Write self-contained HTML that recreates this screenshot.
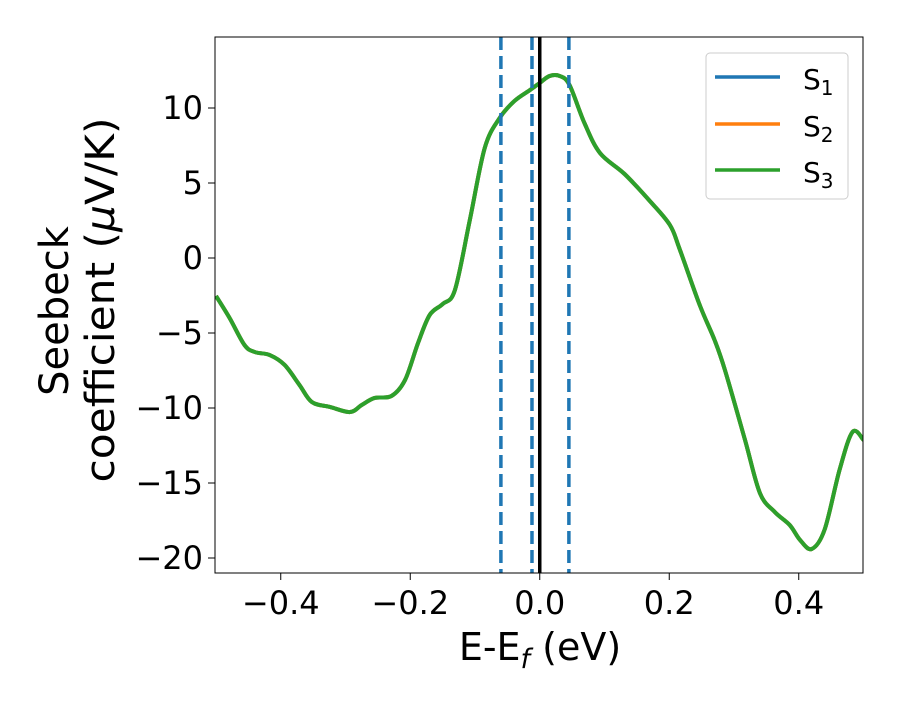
<!DOCTYPE html>
<html><head><meta charset="utf-8"><style>
body{margin:0;background:#fff;}
svg text{font-family:"DejaVu Sans","Liberation Sans",sans-serif;fill:#000;}
</style></head><body>
<svg id="chart" width="900" height="700" xmlns="http://www.w3.org/2000/svg">
<rect x="0" y="0" width="900" height="700" fill="#fff"/>
<g id="marks"></g>
<rect x="215" y="37" width="648" height="536" fill="none" stroke="#000" stroke-width="1"/>
<g id="ticks"></g>
<text x="540" y="660" font-size="38" text-anchor="middle">E-E<tspan font-style="italic" font-size="27" dy="8">f</tspan><tspan dy="-8"> (eV)</tspan></text>
<text transform="translate(68,311) rotate(-90)" font-size="40" text-anchor="middle">Seebeck</text>
<text transform="translate(114,300) rotate(-90)" font-size="40" text-anchor="middle" textLength="365" lengthAdjust="spacingAndGlyphs">coefficient  (<tspan font-style="italic">μ</tspan>V/K)</text>
<g>
<rect x="706" y="53" width="142" height="146" rx="4" fill="#fff" fill-opacity="0.8" stroke="#ccc"/>
<line x1="715" y1="77" x2="780" y2="77" stroke="#1f77b4" stroke-width="3.5"/>
<text x="803" y="89" font-size="28">S<tspan font-size="20" dy="6">1</tspan></text>
<line x1="715" y1="124" x2="780" y2="124" stroke="#ff7f0e" stroke-width="3.5"/>
<text x="803" y="136" font-size="28">S<tspan font-size="20" dy="6">2</tspan></text>
<line x1="715" y1="170" x2="780" y2="170" stroke="#2ca02c" stroke-width="3.5"/>
<text x="803" y="182" font-size="28">S<tspan font-size="20" dy="6">3</tspan></text>
</g>
</svg>
<script>
const energies=[-0.5,-0.479,-0.456,-0.44,-0.417,-0.394,-0.371,-0.352,-0.324,-0.293,-0.275,-0.255,-0.229,-0.208,-0.188,-0.17,-0.15,-0.131,-0.108,-0.085,-0.062,-0.039,-0.015,0,0.015,0.031,0.046,0.069,0.093,0.131,0.17,0.201,0.216,0.247,0.27,0.286,0.317,0.34,0.363,0.386,0.402,0.42,0.44,0.463,0.483,0.5];
const seebeck=[-2.53,-4.0,-5.8,-6.27,-6.47,-7.13,-8.47,-9.6,-9.93,-10.27,-9.8,-9.33,-9.2,-8.13,-5.67,-3.8,-3.07,-2.13,2.53,7.33,9.33,10.47,11.2,11.67,12.13,12.13,11.53,9.0,7.0,5.6,3.8,2.2,0.6,-3.13,-5.47,-7.47,-12.13,-15.67,-16.93,-17.8,-18.8,-19.4,-18.1,-14.13,-11.6,-12.13];
const dashedX=[-0.06,-0.012,0.045];
const fermiX=[0.0];
const xTicks=[-0.4,-0.2,0.0,0.2,0.4];
const xTickLabels=["−0.4","−0.2","0.0","0.2","0.4"];
const yTicks=[10,5,0,-5,-10,-15,-20];
const yTickLabels=["10","5","0","−5","−10","−15","−20"];

const NS="http://www.w3.org/2000/svg";
function sx(v){return 216+(v+0.5)*647.5;}
function sy(v){return 258-v*15;}
function mk(tag,attrs,parent){const e=document.createElementNS(NS,tag);for(const k in attrs)e.setAttribute(k,attrs[k]);parent.appendChild(e);return e;}
const marks=document.getElementById('marks');
const ticks=document.getElementById('ticks');
const clip=mk('clipPath',{id:'clp'},marks);mk('rect',{x:215,y:37,width:648,height:536},clip);
const g=mk('g',{'clip-path':'url(#clp)'},marks);
const P=energies.map((e,i)=>[sx(e),sy(seebeck[i])]);
let d="M"+P[0][0]+","+P[0][1];
for(let i=0;i<P.length-1;i++){
 const p0=P[Math.max(0,i-1)],p1=P[i],p2=P[i+1],p3=P[Math.min(P.length-1,i+2)];
 const c1=[p1[0]+(p2[0]-p0[0])/6,p1[1]+(p2[1]-p0[1])/6];
 const c2=[p2[0]-(p3[0]-p1[0])/6,p2[1]-(p3[1]-p1[1])/6];
 d+=" C"+c1[0]+","+c1[1]+" "+c2[0]+","+c2[1]+" "+p2[0]+","+p2[1];
}
const s1=mk('path',{d:d,fill:'none',stroke:'#1f77b4','stroke-width':4},g);


const s2=mk('path',{d:d,fill:'none',stroke:'#ff7f0e','stroke-width':4},g);


const s3=mk('path',{d:d,fill:'none',stroke:'#2ca02c','stroke-width':4},g);


dashedX.forEach((v,i)=>{
 const l=mk('line',{x1:sx(v),x2:sx(v),y1:37,y2:573,stroke:'#1f77b4','stroke-width':3.5,'stroke-dasharray':'13,6'},g);
 
 
});
fermiX.forEach(v=>{
 const l=mk('line',{x1:sx(v),x2:sx(v),y1:37,y2:573,stroke:'#000','stroke-width':3.5},g);
 
 
});
xTicks.forEach((v,i)=>{
 const x=sx(v);
 const t=mk('line',{x1:x,x2:x,y1:573,y2:580,stroke:'#000'},ticks);
 
 
 const tx=mk('text',{x:x,y:614,'font-size':32,'text-anchor':'middle'},ticks);
 tx.textContent=xTickLabels[i];
 
 
});
yTicks.forEach((v,i)=>{
 const y=sy(v);
 const t=mk('line',{x1:208,x2:215,y1:y,y2:y,stroke:'#000'},ticks);
 
 
 const tx=mk('text',{x:203,y:y+11,'font-size':32,'text-anchor':'end'},ticks);
 tx.textContent=yTickLabels[i];
 
 
});
</script>
</body></html>
